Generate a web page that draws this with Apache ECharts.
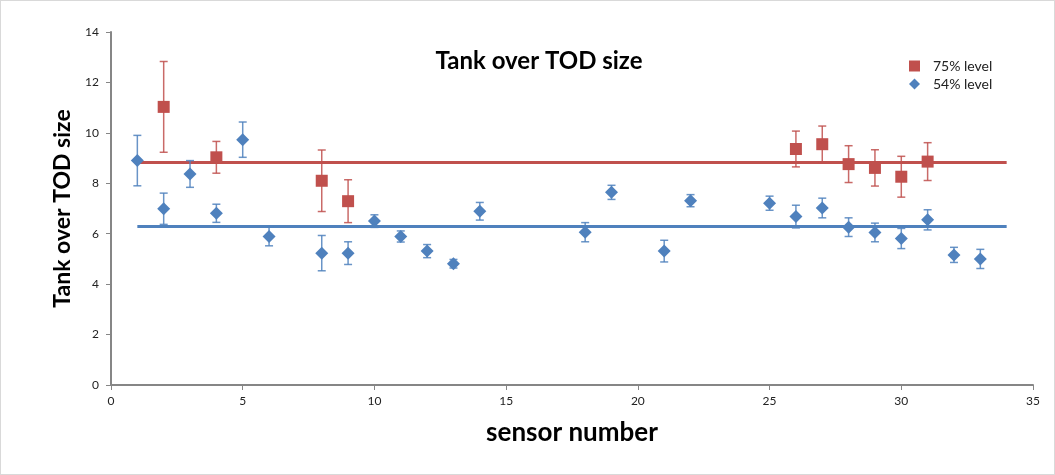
<!DOCTYPE html>
<html>
<head>
<meta charset="utf-8">
<script src="https://cdn.jsdelivr.net/npm/echarts@6/dist/echarts.min.js"></script>
<style>
  html, body { margin: 0; padding: 0; background: #fff; }
  #chart { width: 1053px; height: 473px; border: 1px solid #d9d9d9; }
</style>
</head>
<body>
<div id="chart"></div>
<script>
// 75% level (red squares)
var sensors75 = [2, 4, 8, 9, 26, 27, 28, 29, 30, 31];
var values75  = [11.03, 9.03, 8.1, 7.29, 9.36, 9.55, 8.76, 8.61, 8.26, 8.86];
var errors75  = [1.8, 0.63, 1.22, 0.85, 0.71, 0.72, 0.73, 0.72, 0.81, 0.75];

// 54% level (blue diamonds)
var sensors54 = [1, 2, 3, 4, 5, 6, 8, 9, 10, 11, 12, 13, 14, 18, 19, 21, 22, 25, 26, 27, 28, 29, 30, 31, 32, 33];
var values54  = [8.9, 6.99, 8.37, 6.81, 9.73, 5.89, 5.23, 5.23, 6.5, 5.89, 5.31, 4.81, 6.89, 6.06, 7.64, 5.31, 7.31, 7.21, 6.68, 7.02, 6.26, 6.05, 5.81, 6.55, 5.16, 5.0];
var errors54  = [1.0, 0.62, 0.53, 0.36, 0.7, 0.37, 0.7, 0.45, 0.25, 0.22, 0.26, 0.17, 0.35, 0.38, 0.28, 0.43, 0.24, 0.28, 0.45, 0.39, 0.37, 0.37, 0.4, 0.4, 0.3, 0.38];

// mean lines
var meanRange = [1, 34];
var mean75 = 8.82;
var mean54 = 6.29;

var red = '#C0504D';
var blue = '#4F81BD';

function pts(xs, ys) {
  return xs.map(function (x, i) { return [x, ys[i]]; });
}
function bars(xs, ys, es) {
  return xs.map(function (x, i) { return [x, ys[i] - es[i], ys[i] + es[i]]; });
}
function errorSeries(data, color) {
  return {
    type: 'custom',
    data: data,
    z: 3,
    silent: true,
    renderItem: function (params, api) {
      var x = api.value(0);
      var lo = api.coord([x, api.value(1)]);
      var hi = api.coord([x, api.value(2)]);
      var cap = 4;
      var style = { stroke: color, lineWidth: 1.5, opacity: 0.85 };
      return {
        type: 'group',
        children: [
          { type: 'line', shape: { x1: lo[0], y1: lo[1], x2: hi[0], y2: hi[1] }, style: style },
          { type: 'line', shape: { x1: lo[0] - cap, y1: lo[1], x2: lo[0] + cap, y2: lo[1] }, style: style },
          { type: 'line', shape: { x1: hi[0] - cap, y1: hi[1], x2: hi[0] + cap, y2: hi[1] }, style: style }
        ]
      };
    }
  };
}

var myChart = echarts.init(document.getElementById('chart'));
var font = 'Lato, "Open Sans", sans-serif';

var option = {
  animation: false,
  textStyle: { fontFamily: font },
  title: {
    text: 'Tank over TOD size',
    left: 533,
    top: 43,
    textAlign: 'center',
    textStyle: { fontSize: 24, fontWeight: 'bold', color: '#000', fontFamily: font }
  },
  legend: {
    orient: 'vertical',
    left: 903,
    top: 53,
    itemWidth: 11,
    itemHeight: 11,
    itemGap: 4,
    data: [
      { name: '75% level', icon: 'rect' },
      { name: '54% level', icon: 'diamond' }
    ],
    textStyle: { fontSize: 14, color: '#222', fontFamily: font, padding: [0, 0, 0, 8] }
  },
  grid: { left: 110, right: 21, top: 31, bottom: 89 },
  xAxis: {
    type: 'value',
    min: 0, max: 35, interval: 5,
    name: 'sensor number',
    nameLocation: 'middle',
    nameGap: 35,
    nameTextStyle: { fontSize: 26, fontWeight: 'bold', color: '#000', fontFamily: font },
    axisLine: { lineStyle: { color: '#868686', width: 2 } },
    axisTick: { lineStyle: { color: '#868686' }, length: 5 },
    axisLabel: { color: '#222', fontSize: 12, margin: 10 },
    splitLine: { show: false }
  },
  yAxis: {
    type: 'value',
    min: 0, max: 14, interval: 2,
    name: 'Tank over TOD size',
    nameLocation: 'middle',
    nameGap: 36,
    nameTextStyle: { fontSize: 23, fontWeight: 'bold', color: '#000', fontFamily: font },
    axisLine: { show: true, lineStyle: { color: '#868686', width: 2 } },
    axisTick: { show: true, lineStyle: { color: '#868686' }, length: 5 },
    axisLabel: { color: '#222', fontSize: 12, margin: 12 },
    splitLine: { show: false }
  },
  series: [
    {
      name: 'mean75', type: 'line', z: 1, silent: true, symbol: 'none',
      data: [[meanRange[0], mean75], [meanRange[1], mean75]],
      lineStyle: { color: red, width: 3 }
    },
    {
      name: 'mean54', type: 'line', z: 1, silent: true, symbol: 'none',
      data: [[meanRange[0], mean54], [meanRange[1], mean54]],
      lineStyle: { color: blue, width: 3 }
    },
    errorSeries(bars(sensors75, values75, errors75), red),
    errorSeries(bars(sensors54, values54, errors54), blue),
    {
      name: '75% level', type: 'scatter', z: 4,
      symbol: 'rect', symbolSize: 12,
      itemStyle: { color: red, opacity: 1 },
      data: pts(sensors75, values75)
    },
    {
      name: '54% level', type: 'scatter', z: 5,
      symbol: 'diamond', symbolSize: [13, 13],
      itemStyle: { color: blue, opacity: 1 },
      data: pts(sensors54, values54)
    }
  ]
};

myChart.setOption(option);
</script>
</body>
</html>
